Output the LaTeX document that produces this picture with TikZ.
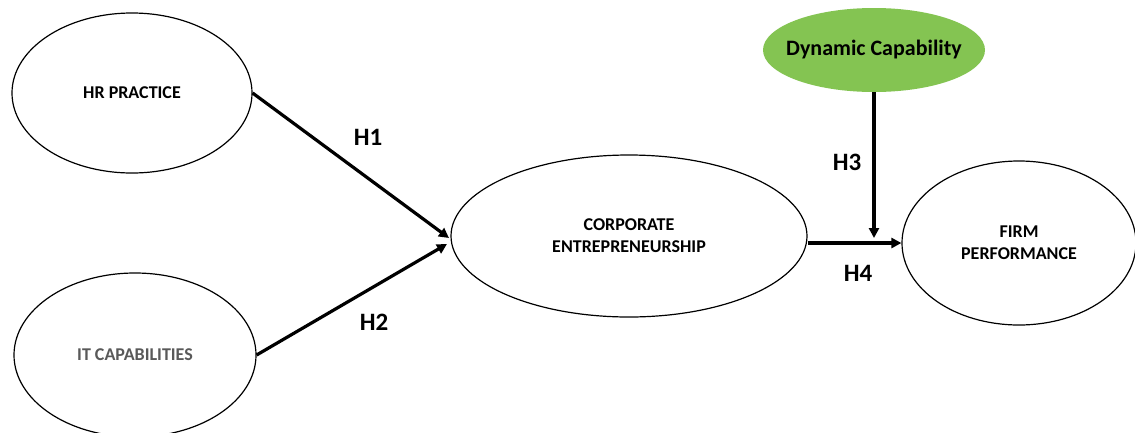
\documentclass[tikz,border=0pt]{standalone}
\usepackage{fontspec}
\setmainfont{Carlito}
\usetikzlibrary{shapes.geometric,arrows.meta}
\definecolor{dcgreen}{HTML}{84C452}
\definecolor{itgrey}{HTML}{595959}
\tikzset{
  construct/.style={ellipse,draw=black,line width=1.2pt,fill=white,inner sep=0pt,
    align=center,font=\bfseries\fontsize{18}{22}\selectfont},
  moderator/.style={ellipse,fill=dcgreen,inner ysep=0pt,inner xsep=-12pt,
    font=\bfseries\fontsize{22}{26}\selectfont},
  path/.style={line width=3.2pt,-{Triangle[length=10pt,width=10pt]}},
  hyp/.style={font=\bfseries\fontsize{25}{28}\selectfont}
}
\begin{document}
\begin{tikzpicture}[x=1pt,y=-1pt]
\useasboundingbox (0,0) rectangle (1135,432);
\fill[white] (0,0) rectangle (1135,432);

\node[construct,minimum width=240pt,minimum height=160pt] (hr) at (132,93) {HR PRACTICE};
\node[construct,minimum width=242pt,minimum height=164pt,text=itgrey] (it) at (135,355) {IT CAPABILITIES};
\node[construct,minimum width=356pt,minimum height=162pt] (ce) at (629,236) {CORPORATE\\ENTREPRENEURSHIP};
\node[construct,minimum width=234pt,minimum height=164pt] (fp) at (1019,243) {FIRM\\PERFORMANCE};
\node[moderator,minimum width=222pt,minimum height=84pt] (dc) at (874,50) {Dynamic Capability};

\coordinate (ceinA) at (449,238);
\coordinate (ceinB) at (447,244);
\coordinate (join) at (874,238);

\draw[path] (hr.east) -- (ceinA);
\draw[path] (it.east) -- (ceinB);
\draw[path] (ce.east |- fp.west) -- (fp.west);
\draw[path] (dc.south) -- (join);

\node[hyp] (h1) at (368,137) {H1};
\node[hyp] (h2) at (374,322) {H2};
\node[hyp] (h3) at (847,162) {H3};
\node[hyp] (h4) at (858,273) {H4};
\end{tikzpicture}
\end{document}
